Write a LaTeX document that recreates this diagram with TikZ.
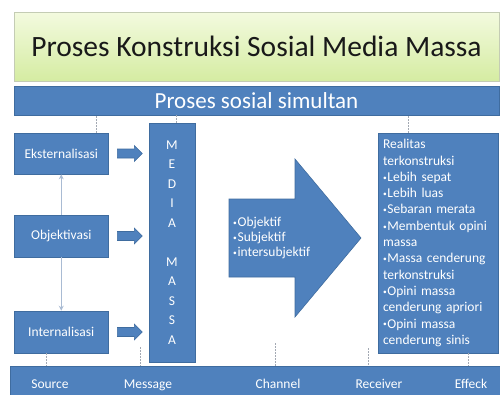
\documentclass[tikz,border=0pt]{standalone}
\usepackage{fontspec}
\usepackage{graphicx}
\setmainfont{Carlito}
\usetikzlibrary{arrows.meta}
\definecolor{officeblue}{HTML}{4F81BD}
\definecolor{blueedge}{HTML}{3F6C9F}
\definecolor{greentop}{HTML}{F3FADF}
\definecolor{greenbot}{HTML}{D5ECA2}
\definecolor{greenedge}{HTML}{C4CCB4}
\definecolor{connline}{HTML}{A9BBD3}
\definecolor{dashgray}{HTML}{A3A9B3}
\newcommand{\bul}{\raisebox{0.08em}{\scalebox{0.55}{•}}\hspace{0.05em}}
\newcommand{\blockarr}[1]{%
  \draw[arrowbox] ([xshift=8.5pt]#1.east) ++(0,-4.5) -- ++(17,0) -- ++(0,-3.5)
    -- ++(8,8) -- ++(-8,8) -- ++(0,-3.5) -- ++(-17,0) -- cycle;}
\tikzset{
  bluebox/.style={draw=blueedge, line width=0.6pt, fill=officeblue, text=white, inner sep=0pt},
  arrowbox/.style={draw=blueedge, line width=0.6pt, fill=officeblue},
  wtext/.style={text=white, inner sep=0pt, font=\fontsize{13.5}{15}\selectfont},
  dashline/.style={draw=dashgray, line width=0.6pt, dash pattern=on 1.5pt off 1.5pt},
  conn/.style={draw=connline, line width=1pt, -{Stealth[length=5pt,width=5pt]}}
}
\begin{document}
\begin{tikzpicture}[x=1pt,y=-1pt]
\useasboundingbox[fill=white] (0,0) rectangle (500,394);
% title
\node[draw=greenedge, line width=0.6pt, top color=greentop, bottom color=greenbot,
      minimum width=485pt, minimum height=69pt, inner sep=0pt,
      font=\fontsize{29.5}{30}\selectfont, text=black!90] (title) at (256.5,46.5)
      {Proses Konstruksi Sosial Media Massa};
% top bar
\node[bluebox, minimum width=485pt, minimum height=29pt,
      font=\fontsize{23}{24}\selectfont] (bar) at (256.5,100.5) {Proses sosial simultan};
% left boxes
\node[bluebox, minimum width=94.5pt, minimum height=41pt, font=\fontsize{13.5}{15}\selectfont]
  (eks) at (61.25,153.5) {Eksternalisasi};
\node[bluebox, minimum width=94.5pt, minimum height=42pt, font=\fontsize{13.5}{15}\selectfont]
  (obj) at (61.25,236) {Objektivasi};
\node[bluebox, minimum width=94.5pt, minimum height=42pt, font=\fontsize{13.5}{15}\selectfont]
  (int) at (61.25,332) {Internalisasi};
% vertical connectors
\draw[conn] (obj.north) -- (eks.south);
\draw[conn] (obj.south) -- (int.north);
% block arrows
\blockarr{eks}
\blockarr{obj}
\blockarr{int}
% media massa
\node[bluebox, minimum width=46pt, minimum height=239pt, align=center,
      font=\fontsize{13.5}{19.5}\selectfont] (media) at (172,242.5)
      {M\\E\\D\\I\\A\\[19.5pt]M\\A\\S\\S\\A};
% big arrow
\path[arrowbox] (229,199) -- (295,199) -- (295,159) -- (361,238) -- (295,317)
      -- (295,277) -- (229,277) -- cycle;
\node[wtext, anchor=west, align=left] (arrtext) at (233,238)
      {\bul Objektif\\\bul Subjektif\\\bul intersubjektif};
% result box
\node[bluebox, minimum width=120pt, minimum height=220pt, inner xsep=5pt,
      text width=110pt, align=left, font=\fontsize{13.5}{16.3}\selectfont] (res) at (438,243)
      {Realitas\\terkonstruksi\\\bul Lebih sepat\\\bul Lebih luas\\\bul Sebaran merata\\\bul Membentuk opini\\massa\\\bul Massa cenderung\\terkonstruksi\\\bul Opini massa\\cenderung apriori\\\bul Opini massa\\cenderung sinis};
% bottom bar
\node[bluebox, minimum width=490pt, minimum height=30pt] (bot) at (255,381) {};
\node[wtext, anchor=base] (src) at (50,388) {Source};
\node[wtext, anchor=base] (msg) at (148,388) {Message};
\node[wtext, anchor=base] (chn) at (278,388) {Channel};
\node[wtext, anchor=base] (rcv) at (379,388) {Receiver};
\node[wtext, anchor=base] (eff) at (471,388) {Effeck};
% dashed guides (top)
\draw[dashline] ([xshift=35pt]eks.north) -- ([xshift=35pt]eks.north |- bar.south);
\draw[dashline] ([xshift=4pt]media.north) -- ([xshift=4pt]media.north |- bar.south);
\draw[dashline] ([xshift=-30pt]res.north) -- ([xshift=-30pt]res.north |- bar.south);
% dashed guides (bottom)
\coordinate (g1) at (140,347);
\coordinate (g2) at (275,343);
\coordinate (g3) at (368,348);
\draw[dashline] ([xshift=-15pt]int.south) -- ([xshift=-15pt]int.south |- bot.north);
\draw[dashline] (g1) -- (g1 |- bot.north);
\draw[dashline] (g2) -- (g2 |- bot.north);
\draw[dashline] (g3) -- (g3 |- bot.north);
\draw[dashline] ([xshift=30pt]res.south) -- ([xshift=30pt]res.south |- bot.north);
\end{tikzpicture}
\end{document}
